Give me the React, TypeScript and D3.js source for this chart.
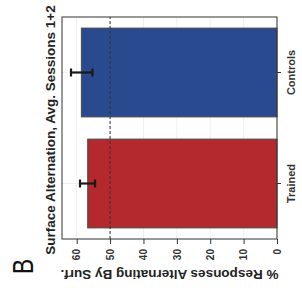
import React, { useEffect, useRef } from 'react';
import * as d3 from 'd3';

// values (% responses alternating by surface)
const categories = ['Trained', 'Controls'];
const means = [56.7, 58.6];
const errLow = [54.5, 55.3];
const errHigh = [59.0, 61.7];
const yTicks = [0, 10, 20, 30, 40, 50, 60];
const barColors = ['#B3292E', '#2A4A90'];
const chanceLevel = 50;

const OUT_W = 302;
const OUT_H = 294;
// chart is laid out upright, then turned 90deg counter-clockwise
const W = OUT_H;
const H = OUT_W;
const MARGIN = { top: 62, right: 17, bottom: 25, left: 55 };
const FONT = '"Liberation Sans", Arial, Helvetica, sans-serif';

export default function App() {
    const svgRef = useRef<SVGSVGElement | null>(null);

    useEffect(() => {
        const svg = d3.select(svgRef.current);
        svg.selectAll('*').remove();

        svg.append('rect')
            .attr('width', OUT_W)
            .attr('height', OUT_H)
            .attr('fill', '#fff');

        const root = svg
            .append('g')
            .attr('transform', `translate(0,${W}) rotate(-90)`)
            .style('font-family', FONT);

        const x0 = MARGIN.left;
        const x1 = W - MARGIN.right;
        const y0 = H - MARGIN.bottom;
        const y1 = MARGIN.top;

        const x = d3
            .scaleBand()
            .domain(categories)
            .range([x0, x1])
            .paddingInner(0.2)
            .paddingOuter(0.1);

        const y = d3.scaleLinear().domain([0, 64.4]).range([y0, y1]);

        // grid
        root.append('g')
            .selectAll('line')
            .data(yTicks)
            .join('line')
            .attr('x1', x0)
            .attr('x2', x1)
            .attr('y1', (d) => y(d))
            .attr('y2', (d) => y(d))
            .attr('stroke', '#ebebeb')
            .attr('stroke-width', 0.8);

        root.append('g')
            .selectAll('line')
            .data(categories)
            .join('line')
            .attr('x1', (d) => x(d)! + x.bandwidth() / 2)
            .attr('x2', (d) => x(d)! + x.bandwidth() / 2)
            .attr('y1', y0)
            .attr('y2', y1)
            .attr('stroke', '#ebebeb')
            .attr('stroke-width', 0.8);

        // bars
        root.append('g')
            .selectAll('rect')
            .data(categories)
            .join('rect')
            .attr('x', (d) => x(d)!)
            .attr('width', x.bandwidth())
            .attr('y', (d, i) => y(means[i]))
            .attr('height', (d, i) => y(0) - y(means[i]))
            .attr('fill', (d, i) => barColors[i])
            .attr('stroke', '#4a4a4a')
            .attr('stroke-width', 1);

        // chance line
        root.append('line')
            .attr('x1', x0)
            .attr('x2', x1)
            .attr('y1', y(chanceLevel))
            .attr('y2', y(chanceLevel))
            .attr('stroke', '#333')
            .attr('stroke-width', 1)
            .attr('stroke-dasharray', '3,2');

        // error bars
        const capHalf = 4;
        const eb = root
            .append('g')
            .attr('stroke', '#1a1a1a')
            .attr('stroke-width', 2.2);
        categories.forEach((c, i) => {
            const cx = x(c)! + x.bandwidth() / 2;
            eb.append('line')
                .attr('x1', cx)
                .attr('x2', cx)
                .attr('y1', y(errLow[i]))
                .attr('y2', y(errHigh[i]));
            [errLow[i], errHigh[i]].forEach((v) => {
                eb.append('line')
                    .attr('x1', cx - capHalf)
                    .attr('x2', cx + capHalf)
                    .attr('y1', y(v))
                    .attr('y2', y(v));
            });
        });

        // panel border
        root.append('rect')
            .attr('x', x0)
            .attr('y', y1)
            .attr('width', x1 - x0)
            .attr('height', y0 - y1)
            .attr('fill', 'none')
            .attr('stroke', '#333')
            .attr('stroke-width', 1);

        // axes
        const yAxis = root
            .append('g')
            .attr('transform', `translate(${x0},0)`)
            .call(d3.axisLeft(y).tickValues(yTicks).tickSize(5).tickPadding(5));
        yAxis.select('.domain').remove();
        yAxis.selectAll('line').attr('stroke', '#333');
        yAxis.selectAll('text')
            .style('font-family', FONT)
            .style('font-size', '10px')
            .style('font-weight', 'bold')
            .attr('fill', '#333');

        const xAxis = root
            .append('g')
            .attr('transform', `translate(0,${y0})`)
            .call(d3.axisBottom(x).tickSize(4).tickPadding(6));
        xAxis.select('.domain').remove();
        xAxis.selectAll('line').attr('stroke', '#333');
        xAxis.selectAll('text')
            .style('font-family', FONT)
            .style('font-size', '11px')
            .style('font-weight', 'bold')
            .attr('fill', '#333');

        // titles
        root.append('text')
            .attr('x', 164)
            .attr('y', 55)
            .attr('text-anchor', 'middle')
            .style('font-size', '13.5px')
            .style('font-weight', 'bold')
            .attr('fill', '#222')
            .text('Surface Alternation, Avg. Sessions 1+2');

        root.append('text')
            .attr('transform', `translate(24,${(y0 + y1) / 2}) rotate(-90)`)
            .attr('text-anchor', 'middle')
            .style('font-size', '13.5px')
            .style('font-weight', 'bold')
            .attr('fill', '#222')
            .text('% Responses Alternating By Surf.');

        root.append('text')
            .attr('transform', 'translate(20,33) scale(0.78,1)')
            .style('font-size', '29px')
            .attr('fill', '#111')
            .text('B');
    }, []);

    return (
        <div style={{ position: 'fixed', left: 0, top: 0 }}>
            <svg ref={svgRef} width={OUT_W} height={OUT_H} style={{ display: 'block' }} />
        </div>
    );
}
